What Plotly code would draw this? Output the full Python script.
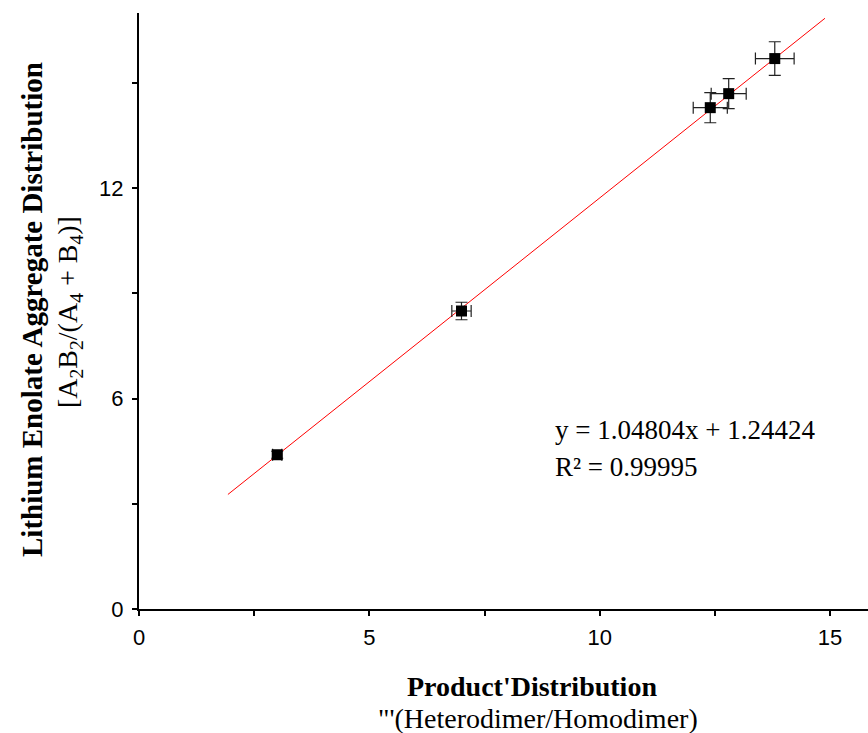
import plotly.graph_objects as go

# Data
product_ratio = [3.0, 7.0, 12.4, 12.8, 13.8]
aggregate_ratio = [4.4, 8.5, 14.3, 14.7, 15.7]
product_err = [0.1, 0.21, 0.37, 0.38, 0.42]
aggregate_err = [0.1, 0.25, 0.43, 0.43, 0.48]

fit_slope = 1.04804
fit_intercept = 1.24424
fit_x = [1.93, 14.89]
fit_y = [fit_slope * v + fit_intercept for v in fit_x]

x_ticks = [0, 5, 10, 15]
y_ticks = [0, 6, 12]
x_minor = [2.5, 7.5, 12.5]
y_minor = [3, 9, 15]

SERIF = "Liberation Serif, Times New Roman, serif"
SANS = "Liberation Sans, Arial, sans-serif"

fig = go.Figure()

fig.add_trace(go.Scatter(
    x=fit_x, y=fit_y, mode="lines",
    line=dict(color="#ff0000", width=1),
    showlegend=False, hoverinfo="skip",
))

fig.add_trace(go.Scatter(
    x=product_ratio, y=aggregate_ratio, mode="markers",
    marker=dict(symbol="square", size=11, color="black"),
    error_x=dict(type="data", array=product_err, color="#222222", thickness=1.2, width=6),
    error_y=dict(type="data", array=aggregate_err, color="#222222", thickness=1.2, width=6),
    showlegend=False,
))

W, H = 868, 733
sx0, sx1, sy0, sy1 = 139, 868, 13, 609
ml = sx0
mt = sy0
mr = W - sx1
mb = H - sy1
pw, ph = W - ml - mr, H - mt - mb

def px(xs):
    return (xs - ml) / pw

def py(ys):
    return (H - mb - ys) / ph

annotations = [
    dict(text="<b>Lithium Enolate Aggregate Distribution</b>", textangle=-90,
         x=px(32), y=py(310), xref="paper", yref="paper",
         xanchor="center", yanchor="middle", showarrow=False,
         font=dict(family=SERIF, size=29, color="black")),
    dict(text="[A<sub>2</sub>B<sub>2</sub>/(A<sub>4</sub> + B<sub>4</sub>)]", textangle=-90,
         x=px(69), y=py(312), xref="paper", yref="paper",
         xanchor="center", yanchor="middle", showarrow=False,
         font=dict(family=SERIF, size=28, color="black")),
    dict(text="<b>Product'Distribution</b>",
         x=px(531.5), y=py(686), xref="paper", yref="paper",
         xanchor="center", yanchor="middle", showarrow=False,
         font=dict(family=SERIF, size=28, color="black")),
    dict(text="\"'(Heterodimer/Homodimer)",
         x=px(537.5), y=py(718), xref="paper", yref="paper",
         xanchor="center", yanchor="middle", showarrow=False,
         font=dict(family=SERIF, size=28, color="black")),
    dict(text="y = 1.04804x + 1.24424",
         x=px(553), y=py(430), xref="paper", yref="paper",
         xanchor="left", yanchor="middle", showarrow=False,
         font=dict(family=SERIF, size=27, color="black")),
    dict(text="R² = 0.99995",
         x=px(553), y=py(467), xref="paper", yref="paper",
         xanchor="left", yanchor="middle", showarrow=False,
         font=dict(family=SERIF, size=27, color="black")),
]

fig.update_layout(
    width=W, height=H,
    margin=dict(l=ml, r=mr, t=mt, b=mb),
    paper_bgcolor="white", plot_bgcolor="white",
    annotations=annotations,
    xaxis=dict(
        range=[0, pw / 46.07], tickvals=x_ticks, ticktext=[str(v) for v in x_ticks],
        showgrid=False, zeroline=False, showline=True, linecolor="black", linewidth=2,
        ticks="outside", ticklen=5, tickwidth=1.5, tickcolor="black",
        ticklabelstandoff=3,
        tickfont=dict(family=SANS, size=22, color="black"),
        minor=dict(tickvals=x_minor, ticks="outside", ticklen=5, tickwidth=1.5, tickcolor="black", showgrid=False),
        fixedrange=True,
    ),
    yaxis=dict(
        range=[0, 17], tickvals=y_ticks, ticktext=[str(v) for v in y_ticks],
        showgrid=False, zeroline=False, showline=True, linecolor="black", linewidth=2,
        ticks="outside", ticklen=5, tickwidth=1.5, tickcolor="black",
        ticklabelstandoff=4,
        tickfont=dict(family=SANS, size=22, color="black"),
        minor=dict(tickvals=y_minor, ticks="outside", ticklen=5, tickwidth=1.5, tickcolor="black", showgrid=False),
        fixedrange=True,
    ),
)

fig.write_html(
    "out.html",
    config={"displayModeBar": False},
    post_script="document.body.style.margin='0';document.body.style.overflow='hidden';",
)
